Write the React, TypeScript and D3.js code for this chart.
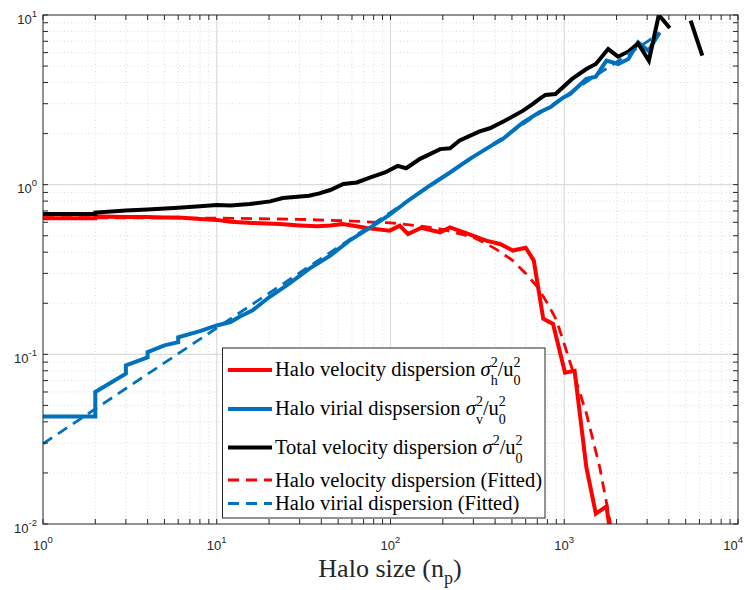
import * as d3 from "d3";

// halo velocity dispersion (measured)
const redN = [1, 2, 2, 3, 4, 5, 6, 8, 10, 12, 16, 23, 30, 38, 45, 53, 60, 73, 99, 113, 126, 150, 193, 220, 275, 355, 427, 506, 556, 600, 668, 757, 862, 1010, 1147, 1340, 1520, 1750, 2000];
const redV = [0.633, 0.633, 0.65, 0.645, 0.645, 0.64, 0.64, 0.628, 0.62, 0.605, 0.595, 0.586, 0.575, 0.568, 0.575, 0.586, 0.575, 0.556, 0.536, 0.573, 0.512, 0.556, 0.524, 0.56, 0.516, 0.468, 0.447, 0.409, 0.418, 0.425, 0.357, 0.162, 0.151, 0.078, 0.08, 0.0216, 0.0115, 0.0127, 0.005];

// halo virial dispersion (measured)
const blueN = [1, 2, 2, 3, 3, 4, 4, 5, 6, 6, 8, 10, 12, 13.6, 16, 20, 26, 34, 45, 58, 76, 99, 130, 168, 220, 286, 373, 443, 580, 720, 830, 990, 1080, 1340, 1520, 1750, 2040, 2340, 2660, 3050, 3540];
const blueV = [0.043, 0.043, 0.06, 0.077, 0.086, 0.096, 0.103, 0.113, 0.118, 0.126, 0.137, 0.148, 0.155, 0.167, 0.181, 0.217, 0.26, 0.319, 0.382, 0.468, 0.556, 0.666, 0.823, 0.986, 1.18, 1.42, 1.675, 1.86, 2.33, 2.67, 2.86, 3.27, 3.42, 4.2, 4.33, 5.38, 5.14, 5.5, 6.9, 6.16, 7.9];

// total velocity dispersion (NaN = gap)
const blackN = [1, 2, 2, 3, 4, 6, 8, 10, 12, 15.5, 20.3, 24, 34, 39, 45, 53.5, 64, 76, 93, 110, 123, 148, 193, 220, 250, 326, 373, 455, 580, 660, 720, 780, 890, 1110, 1340, 1520, 1790, 2040, 2340, 2660, 3070, 3500, 4050, 4600, 5340, 6230];
const blackV = [0.672, 0.672, 0.685, 0.705, 0.715, 0.73, 0.745, 0.76, 0.755, 0.77, 0.797, 0.834, 0.861, 0.889, 0.93, 1.01, 1.03, 1.1, 1.18, 1.29, 1.25, 1.42, 1.62, 1.64, 1.82, 2.06, 2.15, 2.38, 2.73, 2.99, 3.2, 3.38, 3.42, 4.2, 4.8, 5.14, 6.3, 5.68, 6.1, 6.8, 5.38, 10.0, 8.38, NaN, 9.26, 5.76];

// fitted curves
const fitRedN = [1, 10, 30, 60, 100, 150, 200, 300, 400, 500, 600, 700, 800, 900, 1000, 1200, 1340, 1600, 1800, 1900];
const fitRedV = [0.64, 0.635, 0.625, 0.61, 0.595, 0.57, 0.545, 0.49, 0.42, 0.36, 0.3, 0.25, 0.2, 0.16, 0.115, 0.064, 0.045, 0.0216, 0.0115, 0.0085];
const fitBlueN = [1, 10, 100, 1000, 3540];
const fitBlueV = [0.0297, 0.143, 0.687, 3.3, 7.8];

const xMajor = [0, 1, 2, 3, 4];
const yMajor = [-2, -1, 0, 1];

const W = 744;
const H = 590;
const L = 43, R = 738, T = 15, B = 524;

const RED = "#ff0000";
const BLUE = "#0072bd";
const BLACK = "#000000";
const AX = "#262626";
const SANS = "'Liberation Sans', Arial, Helvetica, sans-serif";
const SERIF = "'Liberation Serif', 'Times New Roman', serif";

export default function App() {
  const x = d3.scaleLog().domain([1, 1e4]).range([L, R]);
  const y = d3.scaleLog().domain([0.01, 10]).range([B, T]);

  const line = d3
    .line<[number, number]>()
    .defined((d) => !isNaN(d[1]))
    .x((d) => x(d[0]))
    .y((d) => y(d[1]));

  const zip = (a: number[], b: number[]) => a.map((v, i) => [v, b[i]] as [number, number]);

  const xMinor: number[] = [];
  for (let e = 0; e < 4; e++) for (let k = 2; k <= 9; k++) xMinor.push(k * Math.pow(10, e));
  const yMinor: number[] = [];
  for (let e = -2; e < 1; e++) for (let k = 2; k <= 9; k++) yMinor.push(k * Math.pow(10, e));

  const tl = 5;

  const series = [
    { d: zip(redN, redV), c: RED, dash: null },
    { d: zip(blueN, blueV), c: BLUE, dash: null },
    { d: zip(blackN, blackV), c: BLACK, dash: null },
    { d: zip(fitRedN, fitRedV), c: RED, dash: "11,7" },
    { d: zip(fitBlueN, fitBlueV), c: BLUE, dash: "11,7" },
  ];

  const legX = 222.5, legY = 348, legW = 322.5, legH = 170;
  const tx = 275;

  return (
    <svg width={W} height={H} style={{ position: "absolute", left: 0, top: 0, background: "#fff" }}>
      <defs>
        <clipPath id="plot">
          <rect x={L} y={T} width={R - L} height={B - T} />
        </clipPath>
      </defs>
      <rect x={0} y={0} width={W} height={H} fill="#fff" />

      {/* minor grid */}
      {xMinor.map((v) => (
        <line key={"gx" + v} x1={x(v)} x2={x(v)} y1={T} y2={B} stroke="#d4d4d4" strokeWidth={0.8} strokeDasharray="1,2.5" />
      ))}
      {yMinor.map((v) => (
        <line key={"gy" + v} x1={L} x2={R} y1={y(v)} y2={y(v)} stroke="#d4d4d4" strokeWidth={0.8} strokeDasharray="1,2.5" />
      ))}
      {/* major grid */}
      {xMajor.slice(1, -1).map((e) => (
        <line key={"GX" + e} x1={x(10 ** e)} x2={x(10 ** e)} y1={T} y2={B} stroke="#dcdcdc" strokeWidth={1.2} />
      ))}
      {yMajor.slice(1, -1).map((e) => (
        <line key={"GY" + e} x1={L} x2={R} y1={y(10 ** e)} y2={y(10 ** e)} stroke="#dcdcdc" strokeWidth={1.2} />
      ))}

      {/* data */}
      <g clipPath="url(#plot)">
        {series.map((s, i) => (
          <path
            key={i}
            d={line(s.d) || ""}
            fill="none"
            stroke={s.c}
            strokeWidth={s.dash ? 2.8 : 4}
            strokeDasharray={s.dash || undefined}
            strokeLinejoin="miter"
          />
        ))}
      </g>

      {/* ticks */}
      {[...xMinor, ...xMajor.map((e) => 10 ** e)].map((v) => (
        <g key={"tx" + v}>
          <line x1={x(v)} x2={x(v)} y1={B} y2={B - tl} stroke={AX} strokeWidth={1} />
          <line x1={x(v)} x2={x(v)} y1={T} y2={T + tl} stroke={AX} strokeWidth={1} />
        </g>
      ))}
      {[...yMinor, ...yMajor.map((e) => 10 ** e)].map((v) => (
        <g key={"ty" + v}>
          <line x1={L} x2={L + tl} y1={y(v)} y2={y(v)} stroke={AX} strokeWidth={1} />
          <line x1={R} x2={R - tl} y1={y(v)} y2={y(v)} stroke={AX} strokeWidth={1} />
        </g>
      ))}
      <rect x={L} y={T} width={R - L} height={B - T} fill="none" stroke={AX} strokeWidth={1} />

      {/* tick labels (last one kept inside the page) */}
      {xMajor.map((e, i) => {
        const last = i === xMajor.length - 1;
        return (
          <text
            key={"lx" + e}
            x={last ? W - 1 : x(10 ** e)}
            y={550}
            textAnchor={last ? "end" : "middle"}
            fontFamily={SANS}
            fontSize={13}
            fill={AX}
          >
            10
            <tspan dy={-7} fontSize={9.5}>{e}</tspan>
          </text>
        );
      })}
      {yMajor.map((e) => (
        <text key={"ly" + e} x={37} y={y(10 ** e) + 8.5} textAnchor="end" fontFamily={SANS} fontSize={13} fill={AX}>
          10
          <tspan dy={-7} fontSize={9.5}>{e}</tspan>
        </text>
      ))}

      {/* axis label */}
      <text x={390} y={577} textAnchor="middle" fontFamily={SERIF} fontSize={26} fill={AX}>
        Halo size (n
        <tspan dy={7} fontSize={18}>p</tspan>
        <tspan dy={-7}>)</tspan>
      </text>

      {/* legend */}
      <rect x={legX} y={legY} width={legW} height={legH} fill="#fff" stroke={AX} strokeWidth={1} />
      {[
        { ly: 370, c: RED, dash: null },
        { ly: 409, c: BLUE, dash: null },
        { ly: 447.5, c: BLACK, dash: null },
        { ly: 480, c: RED, dash: "11,7" },
        { ly: 503.5, c: BLUE, dash: "11,7" },
      ].map((r, i) => (
        <line key={"leg" + i} x1={228} x2={272} y1={r.ly} y2={r.ly} stroke={r.c} strokeWidth={r.dash ? 2.8 : 4} strokeDasharray={r.dash || undefined} />
      ))}
      <g fontFamily={SERIF} fontSize={20.5} fill="#000">
        <text x={tx} y={376}>
          Halo velocity dispersion <tspan fontStyle="italic">σ</tspan>
          <tspan dy={-9} fontSize={14}>2</tspan>
          <tspan dx={-7} dy={18} fontSize={14}>h</tspan>
          <tspan dy={-9}>/u</tspan>
          <tspan dy={-9} fontSize={14}>2</tspan>
          <tspan dx={-7} dy={18} fontSize={14}>0</tspan>
        </text>
        <text x={tx} y={415}>
          Halo virial dispsersion <tspan fontStyle="italic">σ</tspan>
          <tspan dy={-9} fontSize={14}>2</tspan>
          <tspan dx={-7} dy={18} fontSize={14}>v</tspan>
          <tspan dy={-9}>/u</tspan>
          <tspan dy={-9} fontSize={14}>2</tspan>
          <tspan dx={-7} dy={18} fontSize={14}>0</tspan>
        </text>
        <text x={tx} y={453.5}>
          Total velocity dispersion <tspan fontStyle="italic">σ</tspan>
          <tspan dy={-9} fontSize={14}>2</tspan>
          <tspan dy={9}>/u</tspan>
          <tspan dy={-9} fontSize={14}>2</tspan>
          <tspan dx={-7} dy={18} fontSize={14}>0</tspan>
        </text>
        <text x={tx} y={487}>Halo velocity dispersion (Fitted)</text>
        <text x={tx} y={510}>Halo virial dispersion (Fitted)</text>
      </g>
    </svg>
  );
}
